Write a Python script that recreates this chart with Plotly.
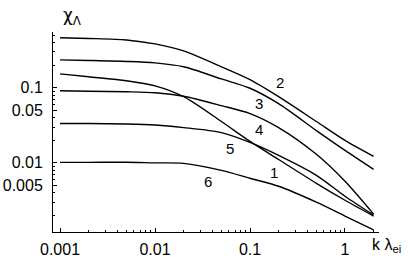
import plotly.graph_objects as go

k = [0.001, 0.002, 0.005, 0.01, 0.02, 0.05, 0.1, 0.2, 0.5, 1, 2]

chi1 = [0.153, 0.140, 0.124, 0.106, 0.076, 0.0355, 0.0193, 0.0111, 0.00535, 0.00318, 0.00196]
chi2 = [0.463, 0.453, 0.433, 0.383, 0.309, 0.190, 0.128, 0.0760, 0.0355, 0.0199, 0.0122]
chi3 = [0.235, 0.231, 0.224, 0.214, 0.190, 0.131, 0.0985, 0.0614, 0.0269, 0.01465, 0.0082]
chi4 = [0.0912, 0.090, 0.0885, 0.0859, 0.077, 0.0578, 0.0453, 0.0295, 0.0130, 0.00569, 0.00208]
chi5 = [0.0334, 0.0334, 0.0329, 0.0319, 0.0295, 0.0253, 0.0187, 0.01257, 0.00683, 0.00360, 0.00202]
chi6 = [0.01016, 0.01016, 0.0102, 0.0100, 0.00985, 0.00796, 0.00624, 0.00489, 0.0030, 0.00196, 0.00128]

series = {"1": chi1, "2": chi2, "3": chi3, "4": chi4, "5": chi5, "6": chi6}

# curve label positions (log10 k, log10 chi)
label_pos = {"2": (-0.684, -0.930), "3": (-0.905, -1.212), "4": (-0.902, -1.556),
             "5": (-1.211, -1.812), "6": (-1.445, -2.254), "1": (-0.744, -2.122)}

x_ticks = [0.001, 0.01, 0.1, 1]
x_ticktext = ["0.001", "0.01", "0.1", "1"]
y_ticks = [0.005, 0.01, 0.05, 0.1]
y_ticktext = ["0.005", "0.01", "0.05", "0.1"]

x_minor = [m * 10.0 ** e for e in (-3, -2, -1, 0) for m in range(2, 10)]
y_minor = [m * 10.0 ** e for e in (-3, -2, -1) for m in range(2, 10)]

FONT = "Liberation Sans, Arial, Helvetica, sans-serif"

fig = go.Figure()
for name, vals in series.items():
    fig.add_trace(go.Scatter(x=k, y=vals, mode="lines", name=name,
                             line=dict(color="black", width=1.4, shape="spline", smoothing=0.8),
                             showlegend=False, hoverinfo="skip"))

for name, (lx, ly) in label_pos.items():
    fig.add_annotation(x=lx, y=ly, xref="x", yref="y", text=name, showarrow=False,
                       font=dict(family=FONT, size=15, color="black"))

fig.add_annotation(x=0.025, y=1.0, xref="paper", yref="paper", xanchor="left", yanchor="bottom",
                   yshift=2, text="χ<sub>Λ</sub>", showarrow=False,
                   font=dict(family="DejaVu Sans, sans-serif", size=17, color="black"))
fig.add_annotation(x=1.0, y=0.0, xref="paper", yref="paper", xanchor="left", yanchor="top",
                   xshift=-9, yshift=-2, text="k λ<sub>ei</sub>", showarrow=False,
                   font=dict(family=FONT, size=16, color="black"))

fig.update_layout(
    width=408, height=261,
    margin=dict(l=53, r=29, t=32, b=29, autoexpand=False),
    paper_bgcolor="white", plot_bgcolor="white",
    font=dict(family=FONT, size=16, color="black"),
    xaxis=dict(type="log", range=[-3.074, 0.358], showline=True, linecolor="black", linewidth=1,
               showgrid=False, zeroline=False, ticks="inside", ticklen=4, tickcolor="black",
               automargin=False,
               tickvals=x_ticks, ticktext=x_ticktext, ticklabelstandoff=3,
               minor=dict(ticks="inside", ticklen=2, tickcolor="black", tickvals=x_minor, showgrid=False)),
    yaxis=dict(type="log", range=[-2.92, -0.258], showline=True, linecolor="black", linewidth=1,
               showgrid=False, zeroline=False, ticks="inside", ticklen=4, tickcolor="black",
               automargin=False,
               tickvals=y_ticks, ticktext=y_ticktext, ticklabelstandoff=6,
               minor=dict(ticks="inside", ticklen=2, tickcolor="black", tickvals=y_minor, showgrid=False)),
)

fig.write_html("out.html", config={"displayModeBar": False},
               post_script="document.body.style.margin='0';document.body.style.overflow='hidden';")
